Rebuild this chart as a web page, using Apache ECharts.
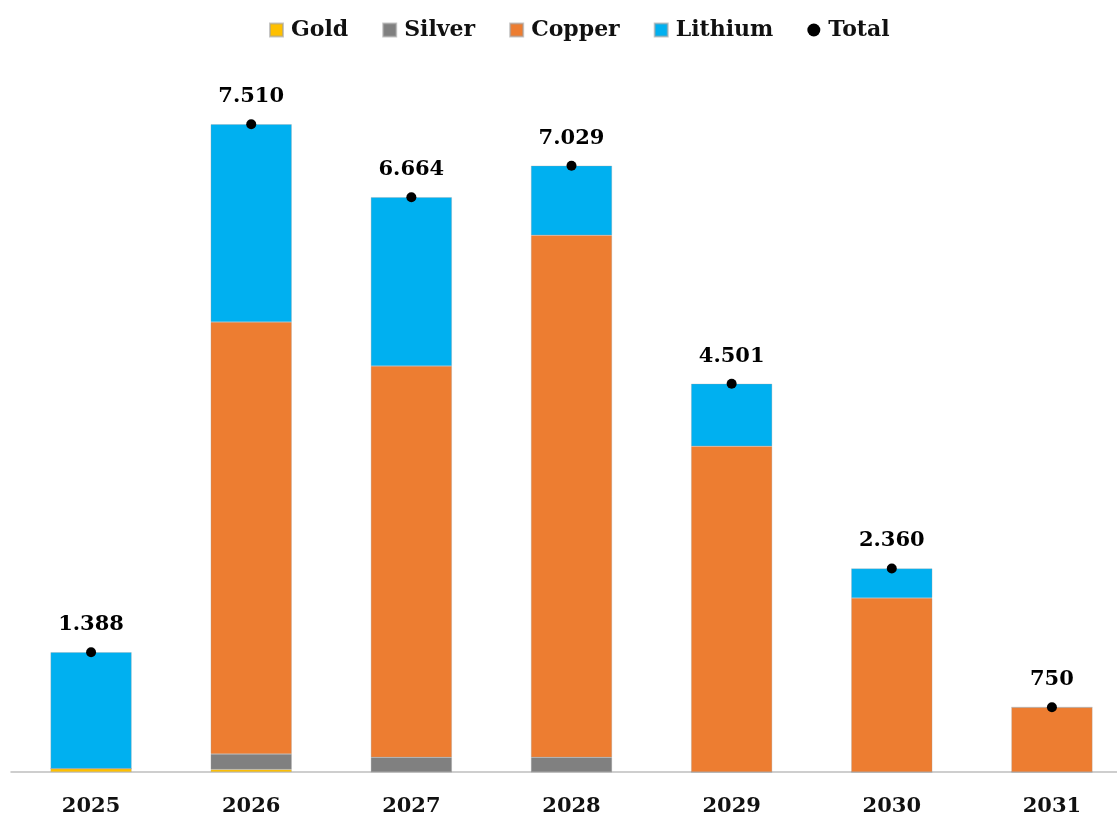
<!DOCTYPE html>
<html><head><meta charset="utf-8">
<script src="https://cdn.jsdelivr.net/npm/echarts@6/dist/echarts.min.js"></script>
<style>html,body{margin:0;padding:0;background:#fff;overflow:hidden}#c{width:1140px;height:818px}</style>
</head><body><div id="c"></div>
<script>
const years = ['2025','2026','2027','2028','2029','2030','2031'];
const gold    = [40, 30, 0, 0, 0, 0, 0];
const silver  = [0, 180, 170, 170, 0, 0, 0];
const copper  = [0, 5006, 4536, 6054, 3778, 2017, 750];
const lithium = [1348, 2294, 1958, 805, 723, 343, 0];
const total   = [1388, 7510, 6664, 7029, 4501, 2360, 750];

const FONT = '"DejaVu Serif", serif';
function fmt(v){
  if (v < 1000) return String(v);
  const t = Math.floor(v/1000), r = v % 1000;
  return t + '.' + String(r).padStart(3,'0');
}
const barStyle = c => ({color: c, borderColor: 'rgba(160,160,160,0.6)', borderWidth: 0.5});
const mk = (name, data, color) => ({
  name, type: 'bar', stack: 's', data, barWidth: 81,
  itemStyle: barStyle(color)
});
const chart = echarts.init(document.getElementById('c'));
chart.setOption({
  animation: false,
  legend: {
    top: 14, left: 264, itemWidth: 13, itemHeight: 13, itemGap: 34,
    textStyle: {fontFamily: FONT, fontWeight: 'bold', fontSize: 22, color: '#111', padding: [0,0,0,3]},
    data: [
      {name:'Gold', icon:'rect'},{name:'Silver', icon:'rect'},
      {name:'Copper', icon:'rect'},{name:'Lithium', icon:'rect'},
      {name:'Total', icon:'circle', itemStyle:{color:'#000', opacity: 1}}
    ]
  },
  grid: {left: 11, top: 82, width: 1121, height: 690, containLabel: false},
  xAxis: {
    type: 'category', data: years,
    axisLine: {lineStyle: {color: '#BFBFBF', width: 1.5}},
    axisTick: {show: false},
    axisLabel: {fontFamily: FONT, fontWeight: 'bold', fontSize: 21, color: '#111', margin: 24}
  },
  yAxis: {type: 'value', min: 0, max: 8000, show: false, splitLine: {show: false}},
  series: [
    mk('Gold', gold, '#FFC000'),
    mk('Silver', silver, '#808080'),
    mk('Copper', copper, '#ED7D31'),
    mk('Lithium', lithium, '#00B0F0'),
    {
      name: 'Total', type: 'scatter', data: total, symbolSize: 10,
      itemStyle: {color: '#000', opacity: 1}, z: 5,
      label: {show: true, position: 'top', distance: 12, formatter: p => fmt(p.value),
        fontFamily: FONT, fontWeight: 'bold', fontSize: 21, color: '#000',
        textBorderWidth: 0}
    }
  ]
});
</script></body></html>
